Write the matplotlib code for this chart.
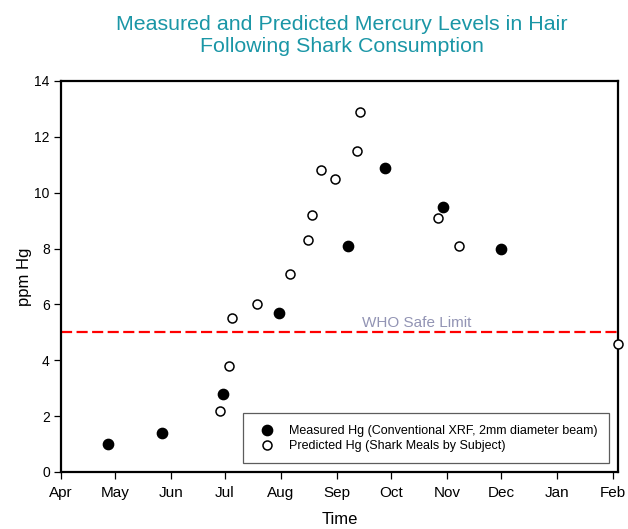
import matplotlib
matplotlib.use("Agg")
import matplotlib.pyplot as plt
import matplotlib.dates as mdates
import pandas as pd

plt.rcParams['font.family'] = ['Liberation Sans', 'DejaVu Sans']

# measured hair mercury (filled circles)
measured_dates = ['2009-04-27', '2009-05-27', '2009-06-30', '2009-07-31',
                  '2009-09-07', '2009-09-28', '2009-10-30', '2009-12-01']
measured_hg = [1.0, 1.4, 2.8, 5.7, 8.1, 10.9, 9.5, 8.0]

# predicted from shark meals (open circles)
predicted_dates = ['2009-06-28', '2009-07-03', '2009-07-05', '2009-07-19',
                   '2009-08-06', '2009-08-16', '2009-08-18', '2009-08-23',
                   '2009-08-31', '2009-09-12', '2009-09-14', '2009-10-27',
                   '2009-11-08', '2010-02-04']
predicted_hg = [2.2, 3.8, 5.5, 6.0, 7.1, 8.3, 9.2, 10.8, 10.5, 11.5, 12.9,
                9.1, 8.1, 4.6]

who_limit = 5.0
x_start, x_end = '2009-04-01', '2010-02-04'

measured_dates = pd.to_datetime(measured_dates)
predicted_dates = pd.to_datetime(predicted_dates)

fig = plt.figure(figsize=(6.28, 5.29), dpi=100)
ax = fig.add_axes([0.0971, 0.1078, 0.8870, 0.7391])

ax.axhline(who_limit, color='red', lw=1.6, linestyle=(0, (5, 2)), zorder=1)
ax.text(pd.Timestamp('2009-09-15'), who_limit + 0.1, 'WHO Safe Limit',
        color='#9294b4', fontsize=11, va='bottom', ha='left')

ax.scatter(measured_dates, measured_hg, s=55, c='black', edgecolors='black',
           zorder=3, clip_on=False,
           label='Measured Hg (Conventional XRF, 2mm diameter beam)')
ax.scatter(predicted_dates, predicted_hg, s=42, facecolors='white',
           edgecolors='black', linewidths=1.1, zorder=3, clip_on=False,
           label='Predicted Hg (Shark Meals by Subject)')

ax.set_xlim(pd.Timestamp(x_start), pd.Timestamp(x_end))
ax.set_ylim(0, 14)
ax.set_yticks(range(0, 15, 2))
ax.xaxis.set_major_locator(mdates.MonthLocator())
ax.xaxis.set_major_formatter(mdates.DateFormatter('%b'))

for sp in ax.spines.values():
    sp.set_linewidth(1.6)
ax.tick_params(axis='both', direction='out', length=5, width=0.9,
               top=False, right=False)
ax.tick_params(axis='x', labelsize=11, pad=5)
ax.tick_params(axis='y', labelsize=10, pad=3)

ax.set_xlabel('Time', fontsize=12, labelpad=9)
ax.set_ylabel('ppm Hg', fontsize=12, labelpad=2)

leg = ax.legend(loc='lower left', bbox_to_anchor=(0.327, 0.023, 0.657, 0.133),
                mode='expand', fontsize=9, frameon=True, fancybox=False,
                edgecolor='#333333', borderpad=0.9, handletextpad=0.8,
                labelspacing=0.25, borderaxespad=0, handlelength=2.0)
leg.get_frame().set_linewidth(0.9)

fig.text(0.544, 0.932, 'Measured and Predicted Mercury Levels in Hair\n'
         'Following Shark Consumption', ha='center', va='center',
         fontsize=15.4, color='#1a96a6', linespacing=1.2)

fig.savefig('out.png', dpi=100)
